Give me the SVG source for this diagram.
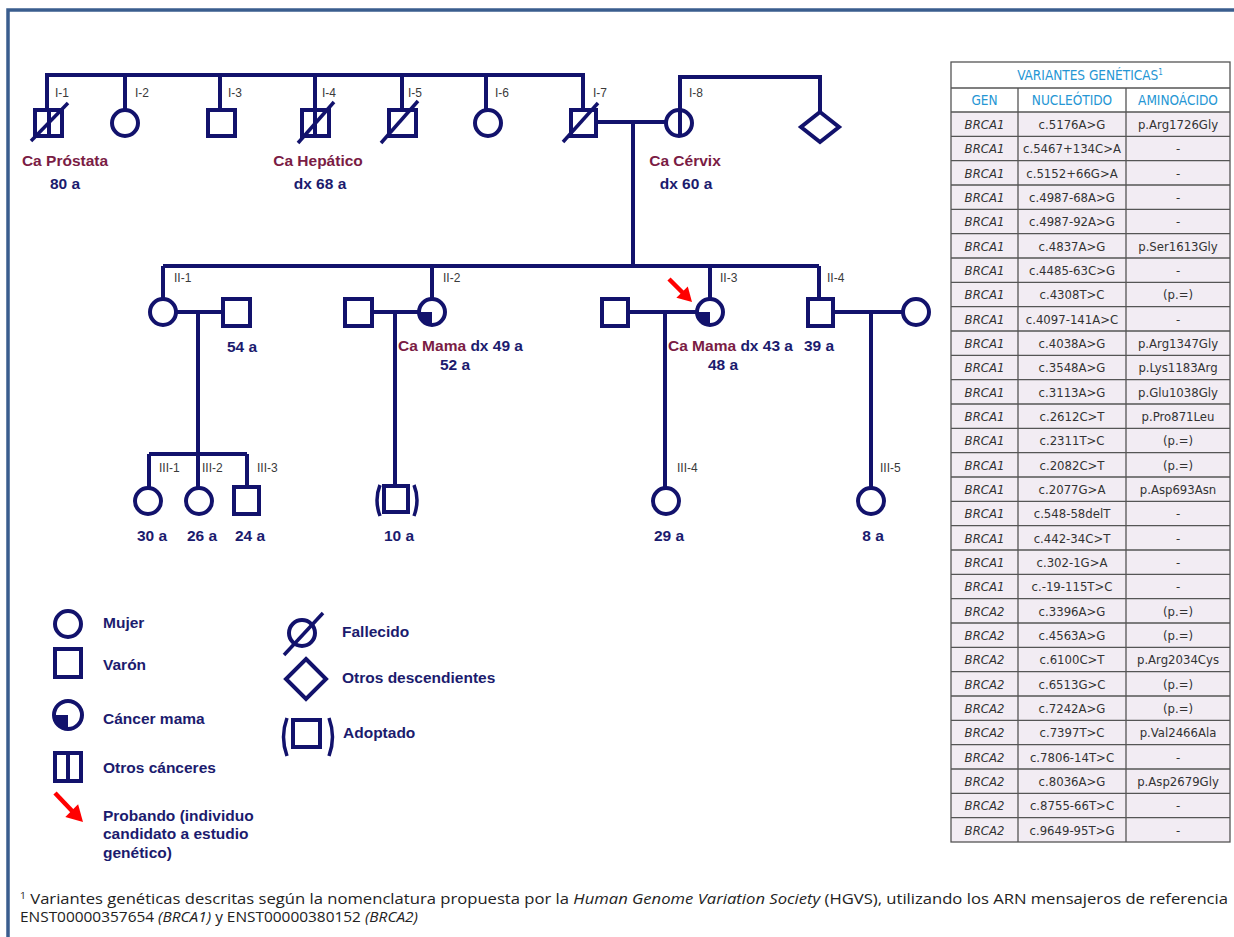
<svg xmlns="http://www.w3.org/2000/svg" width="1234" height="937" viewBox="0 0 1234 937">
<defs>
<style>
.ln{stroke:#12126c;stroke-width:4;fill:none}
.sym{stroke:#12126c;stroke-width:4;fill:#fff}
.sl{stroke:#12126c;stroke-width:3.5;fill:none}
.fill{fill:#12126c;stroke:none}
.red{fill:#f00;stroke:none}
.redl{stroke:#f00;stroke-width:4.5;fill:none}
.lbl{font-family:"Liberation Sans",Arial,sans-serif;font-size:12px;fill:#3a3a3a}
.ca{font-family:"Liberation Sans",Arial,sans-serif;font-weight:bold;font-size:15.5px;fill:#7a1c44}
.age{font-family:"Liberation Sans",Arial,sans-serif;font-weight:bold;font-size:15.5px;fill:#1b1b6e}
.leg{font-family:"Liberation Sans",Arial,sans-serif;font-weight:bold;font-size:15.5px;fill:#1b1b6e}
.tb{font-family:"Liberation Sans Narrow","DejaVu Sans Condensed","Roboto Condensed",sans-serif;font-size:13px;fill:#333;text-anchor:middle}
.it{font-style:italic}
.th{font-family:"Liberation Sans Narrow","DejaVu Sans Condensed","Roboto Condensed",sans-serif;font-size:13.5px;fill:#2596d4;text-anchor:middle}
.grid{stroke:#555;stroke-width:1.3;fill:none}
.fn{font-family:"Open Sans","Liberation Sans",sans-serif;font-size:14.5px;fill:#222}
</style>
</defs>
<rect width="1234" height="937" fill="#fff"/>
<!-- frame -->
<path d="M8,937 V10 H1234" stroke="#3a5d8e" stroke-width="3.5" fill="none"/>

<!-- connectors -->
<g id="connectors">
<path class="ln" d="M47,112 V75 H583 V112 M125,75 V110 M220,75 V110 M315,75 V112 M402,75 V112 M486,75 V110"/>
<path class="ln" d="M596,122 H666 M633,122 V266"/>
<path class="ln" d="M680,112 V77 H820 V112"/>
<path class="ln" d="M163,266 H819 M163,266 V299 M432,266 V299 M710,266 V299 M819,266 V299"/>
<path class="ln" d="M176,312 H223 M198,312 V454 M149,454 H247 M149,454 V488 M198,454 V488 M247,454 V487"/>
<path class="ln" d="M372,312 H419 M395,312 V485"/>
<path class="ln" d="M628,312 H697 M665,312 V488"/>
<path class="ln" d="M833,312 H903 M871,312 V488"/>
</g>

<!-- Generation I -->
<g id="I-1">
<rect class="sym" x="35" y="110" width="27" height="26"/>
<line class="ln" x1="49" y1="110" x2="49" y2="136"/>
<line class="sl" x1="31" y1="141" x2="68" y2="103"/>
<text class="lbl" x="55" y="97">I-1</text>
<text class="ca" x="65" y="166" text-anchor="middle">Ca Próstata</text>
<text class="age" x="65" y="189" text-anchor="middle">80 a</text>
</g>
<g id="I-2">
<circle class="sym" cx="125" cy="123" r="13"/>
<text class="lbl" x="135" y="97">I-2</text>
</g>
<g id="I-3">
<rect class="sym" x="208" y="110" width="27" height="26"/>
<text class="lbl" x="228" y="97">I-3</text>
</g>
<g id="I-4">
<rect class="sym" x="302" y="110" width="27" height="26"/>
<line class="ln" x1="315" y1="110" x2="315" y2="136"/>
<line class="sl" x1="298" y1="143" x2="334" y2="102"/>
<text class="lbl" x="322" y="97">I-4</text>
<text class="ca" x="318" y="166" text-anchor="middle">Ca Hepático</text>
<text class="age" x="320" y="189" text-anchor="middle">dx 68 a</text>
</g>
<g id="I-5">
<rect class="sym" x="389" y="110" width="27" height="26"/>
<line class="sl" x1="381" y1="143" x2="418" y2="101"/>
<text class="lbl" x="408" y="97">I-5</text>
</g>
<g id="I-6">
<circle class="sym" cx="488" cy="123" r="13"/>
<text class="lbl" x="495" y="97">I-6</text>
</g>
<g id="I-7">
<rect class="sym" x="571" y="110" width="25" height="26"/>
<line class="sl" x1="563" y1="142" x2="598" y2="103"/>
<text class="lbl" x="593" y="97">I-7</text>
</g>
<g id="I-8">
<circle class="sym" cx="679" cy="123" r="13"/>
<line class="ln" x1="680" y1="110" x2="680" y2="136"/>
<text class="lbl" x="689" y="97">I-8</text>
<text class="ca" x="685" y="166" text-anchor="middle">Ca Cérvix</text>
<text class="age" x="686" y="189" text-anchor="middle">dx 60 a</text>
</g>
<g id="I-desc">
<path class="sym" d="M820,112 L839,127 L820,142 L801,127 Z"/>
</g>

<!-- Generation II -->
<g id="II-1">
<circle class="sym" cx="163" cy="312" r="13"/>
<text class="lbl" x="174" y="282">II-1</text>
</g>
<g id="II-1-spouse">
<rect class="sym" x="223" y="299" width="27" height="27"/>
<text class="age" x="242" y="352" text-anchor="middle">54 a</text>
</g>
<g id="II-2-spouse">
<rect class="sym" x="345" y="299" width="27" height="27"/>
</g>
<g id="II-2">
<circle class="sym" cx="432" cy="312" r="13"/>
<path class="fill" d="M432,312 L419,312 A13,13 0 0 0 432,325 Z"/>
<text class="lbl" x="443" y="282">II-2</text>
<text x="398" y="351" class="ca">Ca Mama <tspan fill="#1b1b6e">dx 49 a</tspan></text>
<text class="age" x="455" y="370" text-anchor="middle">52 a</text>
</g>
<g id="II-3-spouse">
<rect class="sym" x="602" y="299" width="26" height="27"/>
</g>
<g id="II-3">
<circle class="sym" cx="710" cy="312" r="13"/>
<path class="fill" d="M710,312 L697,312 A13,13 0 0 0 710,325 Z"/>
<line class="redl" x1="669" y1="279" x2="684" y2="294"/>
<polygon class="red" points="692,302 687.8,286.4 676.4,297.8"/>
<text class="lbl" x="720" y="282">II-3</text>
<text x="668" y="351" class="ca">Ca Mama <tspan fill="#1b1b6e">dx 43 a</tspan></text>
<text class="age" x="723" y="370" text-anchor="middle">48 a</text>
</g>
<g id="II-4">
<rect class="sym" x="808" y="299" width="25" height="27"/>
<text class="lbl" x="827" y="282">II-4</text>
<text class="age" x="819" y="351" text-anchor="middle">39 a</text>
</g>
<g id="II-4-spouse">
<circle class="sym" cx="916" cy="312" r="13"/>
</g>

<!-- Generation III -->
<g id="III-1">
<circle class="sym" cx="148" cy="501" r="13"/>
<text class="lbl" x="159" y="472">III-1</text>
<text class="age" x="152" y="541" text-anchor="middle">30 a</text>
</g>
<g id="III-2">
<circle class="sym" cx="199" cy="501" r="13"/>
<text class="lbl" x="202" y="472">III-2</text>
<text class="age" x="202" y="541" text-anchor="middle">26 a</text>
</g>
<g id="III-3">
<rect class="sym" x="234" y="487" width="25" height="27"/>
<text class="lbl" x="257" y="472">III-3</text>
<text class="age" x="250" y="541" text-anchor="middle">24 a</text>
</g>
<g id="II-2-adopted">
<rect class="sym" x="384" y="486" width="24" height="26"/>
<path class="sl" d="M380,485 Q374,500 380,516 M414,485 Q420,500 414,516"/>
<text class="age" x="399" y="541" text-anchor="middle">10 a</text>
</g>
<g id="III-4">
<circle class="sym" cx="666" cy="501" r="13"/>
<text class="lbl" x="677" y="472">III-4</text>
<text class="age" x="669" y="541" text-anchor="middle">29 a</text>
</g>
<g id="III-5">
<circle class="sym" cx="871" cy="501" r="13"/>
<text class="lbl" x="880" y="472">III-5</text>
<text class="age" x="873" y="541" text-anchor="middle">8 a</text>
</g>

<!-- Legend -->
<g id="legend">
<circle class="sym" cx="68" cy="624" r="13"/>
<text class="leg" x="103" y="628">Mujer</text>
<rect class="sym" x="55" y="649" width="26" height="28"/>
<text class="leg" x="103" y="670">Varón</text>
<circle class="sym" cx="68" cy="715" r="14"/>
<path class="fill" d="M68,715 L54,715 A14,14 0 0 0 68,729 Z"/>
<text class="leg" x="103" y="724">Cáncer mama</text>
<rect class="sym" x="55" y="753" width="26" height="28"/>
<line class="ln" x1="68" y1="753" x2="68" y2="781"/>
<text class="leg" x="103" y="773">Otros cánceres</text>
<line class="redl" x1="55" y1="793" x2="74" y2="813"/>
<polygon class="red" points="83,822 78.1,804.3 65.3,817.1"/>
<text class="leg" x="103" y="821">Probando (individuo</text>
<text class="leg" x="103" y="839">candidato a estudio</text>
<text class="leg" x="103" y="858">genético)</text>
<circle class="sym" cx="302" cy="633" r="13"/>
<line class="sl" x1="284" y1="655" x2="323" y2="613"/>
<text class="leg" x="342" y="637">Fallecido</text>
<path class="sym" d="M306,659 L326,679 L306,699 L286,679 Z"/>
<text class="leg" x="342" y="683">Otros descendientes</text>
<rect class="sym" x="293" y="720" width="27" height="27"/>
<path class="sl" d="M287,718 Q280,737 287,756 M329,718 Q336,737 329,756"/>
<text class="leg" x="343" y="738">Adoptado</text>
</g>

<!-- Table -->
<g id="table">
<rect x="951" y="112" width="279" height="730" fill="#f2ecf3"/>
<rect class="grid" x="951" y="62" width="279" height="780"/>
<path class="grid" d="M951,88 H1230 M951,112 H1230 M1018,88 V842 M1126,88 V842
M951,136.3 H1230 M951,160.7 H1230 M951,185 H1230 M951,209.3 H1230 M951,233.7 H1230 M951,258 H1230
M951,282.3 H1230 M951,306.7 H1230 M951,331 H1230 M951,355.3 H1230 M951,379.7 H1230 M951,404 H1230
M951,428.3 H1230 M951,452.7 H1230 M951,477 H1230 M951,501.3 H1230 M951,525.7 H1230 M951,550 H1230
M951,574.3 H1230 M951,598.7 H1230 M951,623 H1230 M951,647.3 H1230 M951,671.7 H1230 M951,696 H1230
M951,720.3 H1230 M951,744.7 H1230 M951,769 H1230 M951,793.3 H1230 M951,817.7 H1230"/>
<text class="th" x="1090" y="80">VARIANTES GENÉTICAS<tspan font-size="8" dy="-5">1</tspan></text>
<text class="th" x="984.5" y="105">GEN</text>
<text class="th" x="1072" y="105">NUCLEÓTIDO</text>
<text class="th" x="1178" y="105">AMINOÁCIDO</text>
<g>
<text x="984.5" y="129" class="tb it">BRCA1</text><text x="1072" y="129" class="tb">c.5176A&gt;G</text><text x="1178" y="129" class="tb">p.Arg1726Gly</text>
<text x="984.5" y="153.3" class="tb it">BRCA1</text><text x="1072" y="153.3" class="tb">c.5467+134C&gt;A</text><text x="1178" y="153.3" class="tb">-</text>
<text x="984.5" y="177.7" class="tb it">BRCA1</text><text x="1072" y="177.7" class="tb">c.5152+66G&gt;A</text><text x="1178" y="177.7" class="tb">-</text>
<text x="984.5" y="202" class="tb it">BRCA1</text><text x="1072" y="202" class="tb">c.4987-68A&gt;G</text><text x="1178" y="202" class="tb">-</text>
<text x="984.5" y="226.3" class="tb it">BRCA1</text><text x="1072" y="226.3" class="tb">c.4987-92A&gt;G</text><text x="1178" y="226.3" class="tb">-</text>
<text x="984.5" y="250.7" class="tb it">BRCA1</text><text x="1072" y="250.7" class="tb">c.4837A&gt;G</text><text x="1178" y="250.7" class="tb">p.Ser1613Gly</text>
<text x="984.5" y="275" class="tb it">BRCA1</text><text x="1072" y="275" class="tb">c.4485-63C&gt;G</text><text x="1178" y="275" class="tb">-</text>
<text x="984.5" y="299.3" class="tb it">BRCA1</text><text x="1072" y="299.3" class="tb">c.4308T&gt;C</text><text x="1178" y="299.3" class="tb">(p.=)</text>
<text x="984.5" y="323.7" class="tb it">BRCA1</text><text x="1072" y="323.7" class="tb">c.4097-141A&gt;C</text><text x="1178" y="323.7" class="tb">-</text>
<text x="984.5" y="348" class="tb it">BRCA1</text><text x="1072" y="348" class="tb">c.4038A&gt;G</text><text x="1178" y="348" class="tb">p.Arg1347Gly</text>
<text x="984.5" y="372.3" class="tb it">BRCA1</text><text x="1072" y="372.3" class="tb">c.3548A&gt;G</text><text x="1178" y="372.3" class="tb">p.Lys1183Arg</text>
<text x="984.5" y="396.7" class="tb it">BRCA1</text><text x="1072" y="396.7" class="tb">c.3113A&gt;G</text><text x="1178" y="396.7" class="tb">p.Glu1038Gly</text>
<text x="984.5" y="421" class="tb it">BRCA1</text><text x="1072" y="421" class="tb">c.2612C&gt;T</text><text x="1178" y="421" class="tb">p.Pro871Leu</text>
<text x="984.5" y="445.3" class="tb it">BRCA1</text><text x="1072" y="445.3" class="tb">c.2311T&gt;C</text><text x="1178" y="445.3" class="tb">(p.=)</text>
<text x="984.5" y="469.7" class="tb it">BRCA1</text><text x="1072" y="469.7" class="tb">c.2082C&gt;T</text><text x="1178" y="469.7" class="tb">(p.=)</text>
<text x="984.5" y="494" class="tb it">BRCA1</text><text x="1072" y="494" class="tb">c.2077G&gt;A</text><text x="1178" y="494" class="tb">p.Asp693Asn</text>
<text x="984.5" y="518.3" class="tb it">BRCA1</text><text x="1072" y="518.3" class="tb">c.548-58delT</text><text x="1178" y="518.3" class="tb">-</text>
<text x="984.5" y="542.7" class="tb it">BRCA1</text><text x="1072" y="542.7" class="tb">c.442-34C&gt;T</text><text x="1178" y="542.7" class="tb">-</text>
<text x="984.5" y="567" class="tb it">BRCA1</text><text x="1072" y="567" class="tb">c.302-1G&gt;A</text><text x="1178" y="567" class="tb">-</text>
<text x="984.5" y="591.3" class="tb it">BRCA1</text><text x="1072" y="591.3" class="tb">c.-19-115T&gt;C</text><text x="1178" y="591.3" class="tb">-</text>
<text x="984.5" y="615.7" class="tb it">BRCA2</text><text x="1072" y="615.7" class="tb">c.3396A&gt;G</text><text x="1178" y="615.7" class="tb">(p.=)</text>
<text x="984.5" y="640" class="tb it">BRCA2</text><text x="1072" y="640" class="tb">c.4563A&gt;G</text><text x="1178" y="640" class="tb">(p.=)</text>
<text x="984.5" y="664.3" class="tb it">BRCA2</text><text x="1072" y="664.3" class="tb">c.6100C&gt;T</text><text x="1178" y="664.3" class="tb">p.Arg2034Cys</text>
<text x="984.5" y="688.7" class="tb it">BRCA2</text><text x="1072" y="688.7" class="tb">c.6513G&gt;C</text><text x="1178" y="688.7" class="tb">(p.=)</text>
<text x="984.5" y="713" class="tb it">BRCA2</text><text x="1072" y="713" class="tb">c.7242A&gt;G</text><text x="1178" y="713" class="tb">(p.=)</text>
<text x="984.5" y="737.3" class="tb it">BRCA2</text><text x="1072" y="737.3" class="tb">c.7397T&gt;C</text><text x="1178" y="737.3" class="tb">p.Val2466Ala</text>
<text x="984.5" y="761.7" class="tb it">BRCA2</text><text x="1072" y="761.7" class="tb">c.7806-14T&gt;C</text><text x="1178" y="761.7" class="tb">-</text>
<text x="984.5" y="786" class="tb it">BRCA2</text><text x="1072" y="786" class="tb">c.8036A&gt;G</text><text x="1178" y="786" class="tb">p.Asp2679Gly</text>
<text x="984.5" y="810.3" class="tb it">BRCA2</text><text x="1072" y="810.3" class="tb">c.8755-66T&gt;C</text><text x="1178" y="810.3" class="tb">-</text>
<text x="984.5" y="834.7" class="tb it">BRCA2</text><text x="1072" y="834.7" class="tb">c.9649-95T&gt;G</text><text x="1178" y="834.7" class="tb">-</text>
</g>
</g>

<!-- Footnote -->
<g id="footnote">
<text class="fn" x="20" y="904" textLength="1208" lengthAdjust="spacingAndGlyphs"><tspan font-size="9" dy="-5">1</tspan><tspan dy="5"> Variantes genéticas descritas según la nomenclatura propuesta por la </tspan><tspan font-style="italic">Human Genome Variation Society</tspan> (HGVS), utilizando los ARN mensajeros de referencia</text>
<text class="fn" x="20" y="922" textLength="398" lengthAdjust="spacingAndGlyphs">ENST00000357654 <tspan font-style="italic">(BRCA1)</tspan> y ENST00000380152 <tspan font-style="italic">(BRCA2)</tspan></text>
</g>
</svg>
